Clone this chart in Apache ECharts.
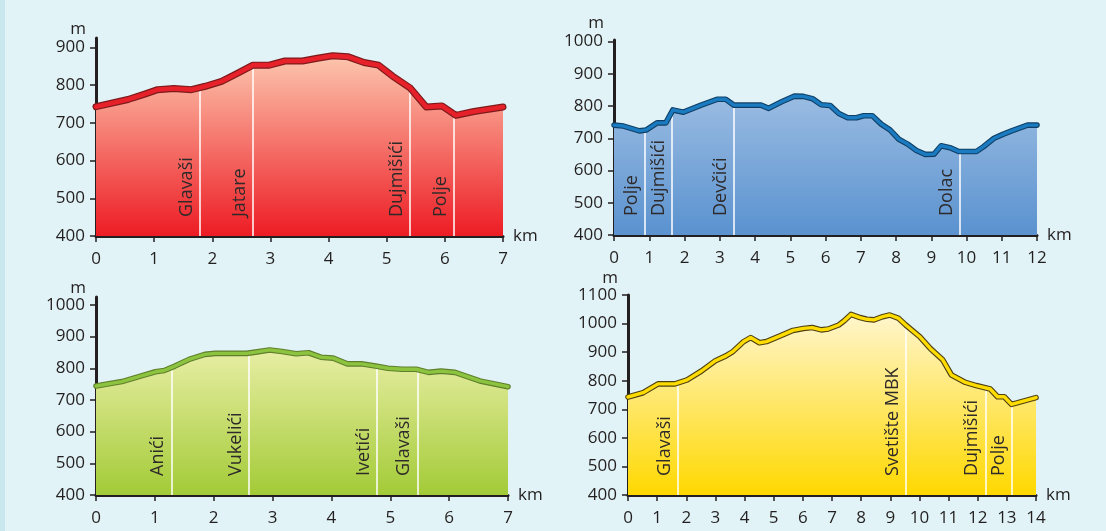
<!DOCTYPE html>
<html><head><meta charset="utf-8">
<script src="https://cdn.jsdelivr.net/npm/echarts@6/dist/echarts.min.js"></script>
<style>
html,body{margin:0;padding:0;background:#e1f3f6;overflow:hidden;}
#c{position:absolute;left:0;top:0;width:1106px;height:531px;}
#strip{position:absolute;left:0;top:0;width:5px;height:531px;background:#c8e8ee;}
</style></head>
<body><div id="strip"></div><div id="c"></div>
<script>
// ---- data ----
const km1 = [0,0.55,0.85,1.06,1.34,1.64,1.88,2.16,2.43,2.70,2.98,3.25,3.55,3.83,4.07,4.34,4.61,4.86,5.10,5.40,5.68,5.95,6.19,6.50,7.0];
const elev1 = [743,762,777,788,791,788,797,810,831,853,853,864,864,872,878,875,860,853,824,793,742,745,720,730,742];
const places1 = ['Glavaši','Jatare','Dujmišići','Polje'];
const placesKm1 = [1.78,2.69,5.40,6.16];
const yTicks1 = [400,500,600,700,800,900];

const km2 = [0,0.27,0.72,0.92,1.22,1.47,1.67,1.97,2.47,2.92,3.17,3.40,4.17,4.39,4.77,5.12,5.37,5.63,5.88,6.13,6.38,6.63,6.88,7.08,7.33,7.58,7.83,8.08,8.33,8.58,8.83,9.08,9.28,9.53,9.78,10.28,10.48,10.78,11.03,11.28,11.73,12];
const elev2 = [741,738,723,726,748,748,788,781,803,821,821,803,803,793,814,831,830,823,804,802,777,764,764,770,770,744,726,697,682,662,650,651,677,671,659,659,674,700,712,723,741,741];
const places2 = ['Polje','Dujmišići','Devčići','Dolac'];
const placesKm2 = [0.87,1.63,3.41,9.80];
const yTicks2 = [400,500,600,700,800,900,1000];

const km3 = [0,0.44,0.77,1.01,1.16,1.34,1.58,1.85,2.03,2.56,2.71,2.95,3.16,3.40,3.61,3.82,4.03,4.27,4.51,4.75,4.96,5.20,5.44,5.65,5.86,6.10,6.52,7];
const elev3 = [744,758,776,789,793,807,828,844,847,847,851,858,853,846,849,835,832,814,814,807,800,797,797,787,791,787,760,742];
const places3 = ['Anići','Vukelići','Ivetići','Glavaši'];
const placesKm3 = [1.28,2.59,4.77,5.46];
const yTicks3 = [400,500,600,700,800,900,1000];

const km4 = [0,0.52,1.03,1.61,2.03,2.52,3.00,3.36,3.60,3.97,4.21,4.51,4.75,5.24,5.66,6.02,6.32,6.63,6.87,7.23,7.41,7.65,7.96,8.20,8.44,8.74,8.98,9.29,9.53,10.01,10.37,10.80,11.10,11.58,11.95,12.43,12.68,12.91,13.16,14];
const elev4 = [743,758,789,789,803,834,870,887,902,937,951,933,937,958,976,983,986,978,981,995,1009,1032,1021,1015,1013,1024,1030,1018,995,954,913,873,820,794,783,771,744,744,717,741];
const places4 = ['Glavaši','Svetište MBK','Dujmišići','Polje'];
const placesKm4 = [1.70,9.53,12.26,13.16];
const yTicks4 = [400,500,600,700,800,900,1000,1100];

// ---- styling / layout ----
const FONT = "'Open Sans', 'DejaVu Sans', sans-serif";
const TXT = '#231f20';
const panels = [
  {km:km1, elev:elev1, names:places1, pkm:placesKm1, ticks:yTicks1, yMax:925, xMax:7,
   grid:{left:96, top:38, width:407, height:198}, mGap:0,
   fill:['#fcc6ae','#ed1c24'], line:'#e6212a', edge:'#7d1a1c', w:[7,4.6]},
  {km:km2, elev:elev2, names:places2, pkm:placesKm2, ticks:yTicks2, yMax:1005, xMax:12,
   grid:{left:614, top:40, width:423, height:195}, mGap:8,
   fill:['#9abce2','#5a92cf'], line:'#1b7bc1', edge:'#0f3f66', w:[5.6,3.4]},
  {km:km3, elev:elev3, names:places3, pkm:placesKm3, ticks:yTicks3, yMax:1025, xMax:7,
   grid:{left:96, top:297, width:412, height:198}, mGap:0,
   fill:['#e8eea4','#a3cb37'], line:'#8dc43f', edge:'#5f7f2c', w:[5.6,3.4]},
  {km:km4, elev:elev4, names:places4, pkm:placesKm4, ticks:yTicks4, yMax:1100, xMax:14,
   grid:{left:628, top:295, width:408, height:200}, mGap:7,
   fill:['#fff6cd','#ffd800'], line:'#ffdc00', edge:'#4d3f12', w:[5.6,3.4]}
];

function elevAt(km, elev, x){
  for (let i=1;i<km.length;i++){
    if (x <= km[i]) { const t=(x-km[i-1])/(km[i]-km[i-1]); return elev[i-1]+t*(elev[i]-elev[i-1]); }
  }
  return elev[elev.length-1];
}

const option = {animation:false, grid:[], xAxis:[], yAxis:[], series:[]};
panels.forEach((p,i)=>{
  option.grid.push(Object.assign({containLabel:false}, p.grid));
  option.xAxis.push({
    type:'value', gridIndex:i, min:0, max:p.xMax, interval:1,
    name:'km', nameLocation:'end', nameGap:10,
    nameTextStyle:{fontFamily:FONT, fontSize:17, color:TXT},
    axisLine:{show:true, lineStyle:{color:'#231f20', width:3}},
    axisTick:{show:true, length:6, lineStyle:{color:'#231f20', width:1.5}},
    axisLabel:{fontFamily:FONT, fontSize:17, color:TXT, margin:15, formatter:v=>String(v)},
    splitLine:{show:false}
  });
  option.yAxis.push({
    type:'value', gridIndex:i, min:400, max:p.yMax, interval:100,
    name:'m', nameLocation:'end', nameGap:p.mGap,
    nameTextStyle:{fontFamily:FONT, fontSize:17, color:TXT, align:'right', padding:[0,10,0,0]},
    axisLine:{show:true, lineStyle:{color:'#231f20', width:3}},
    axisTick:{show:true, length:6, customValues:p.ticks, lineStyle:{color:'#231f20', width:1.5}},
    axisLabel:{fontFamily:FONT, fontSize:17, color:TXT, margin:11, customValues:p.ticks, formatter:v=>String(v)},
    splitLine:{show:false}
  });
  const pts = p.km.map((k,j)=>[k,p.elev[j]]);
  option.series.push({
    type:'line', xAxisIndex:i, yAxisIndex:i, data:pts, symbol:'none', silent:true, z:2,
    lineStyle:{width:0},
    areaStyle:{opacity:1, color:new echarts.graphic.LinearGradient(0,0,0,1,[{offset:0,color:p.fill[0]},{offset:1,color:p.fill[1]}])},
    markLine:{
      silent:true, symbol:['none','none'], animation:false, z:3,
      lineStyle:{color:'#ffffff', width:1.5, type:'solid'},
      label:{show:true, position:'insideStartTop', distance:[19,4], fontFamily:FONT, fontSize:18, color:'#2e2a2a'},
      data:p.names.map((n,j)=>[
        {coord:[p.pkm[j],400], name:n, label:{formatter:n}},
        {coord:[p.pkm[j], elevAt(p.km,p.elev,p.pkm[j])]}
      ])
    }
  });
  option.series.push({
    type:'line', xAxisIndex:i, yAxisIndex:i, data:pts, symbol:'none', silent:true, z:10,
    lineStyle:{width:p.w[0], color:p.edge, join:'round', cap:'round'}
  });
  option.series.push({
    type:'line', xAxisIndex:i, yAxisIndex:i, data:pts, symbol:'none', silent:true, z:11,
    lineStyle:{width:p.w[1], color:p.line, join:'round', cap:'round'}
  });
});

const chart = echarts.init(document.getElementById('c'), null, {renderer:'canvas'});
chart.setOption(option);
</script></body></html>
